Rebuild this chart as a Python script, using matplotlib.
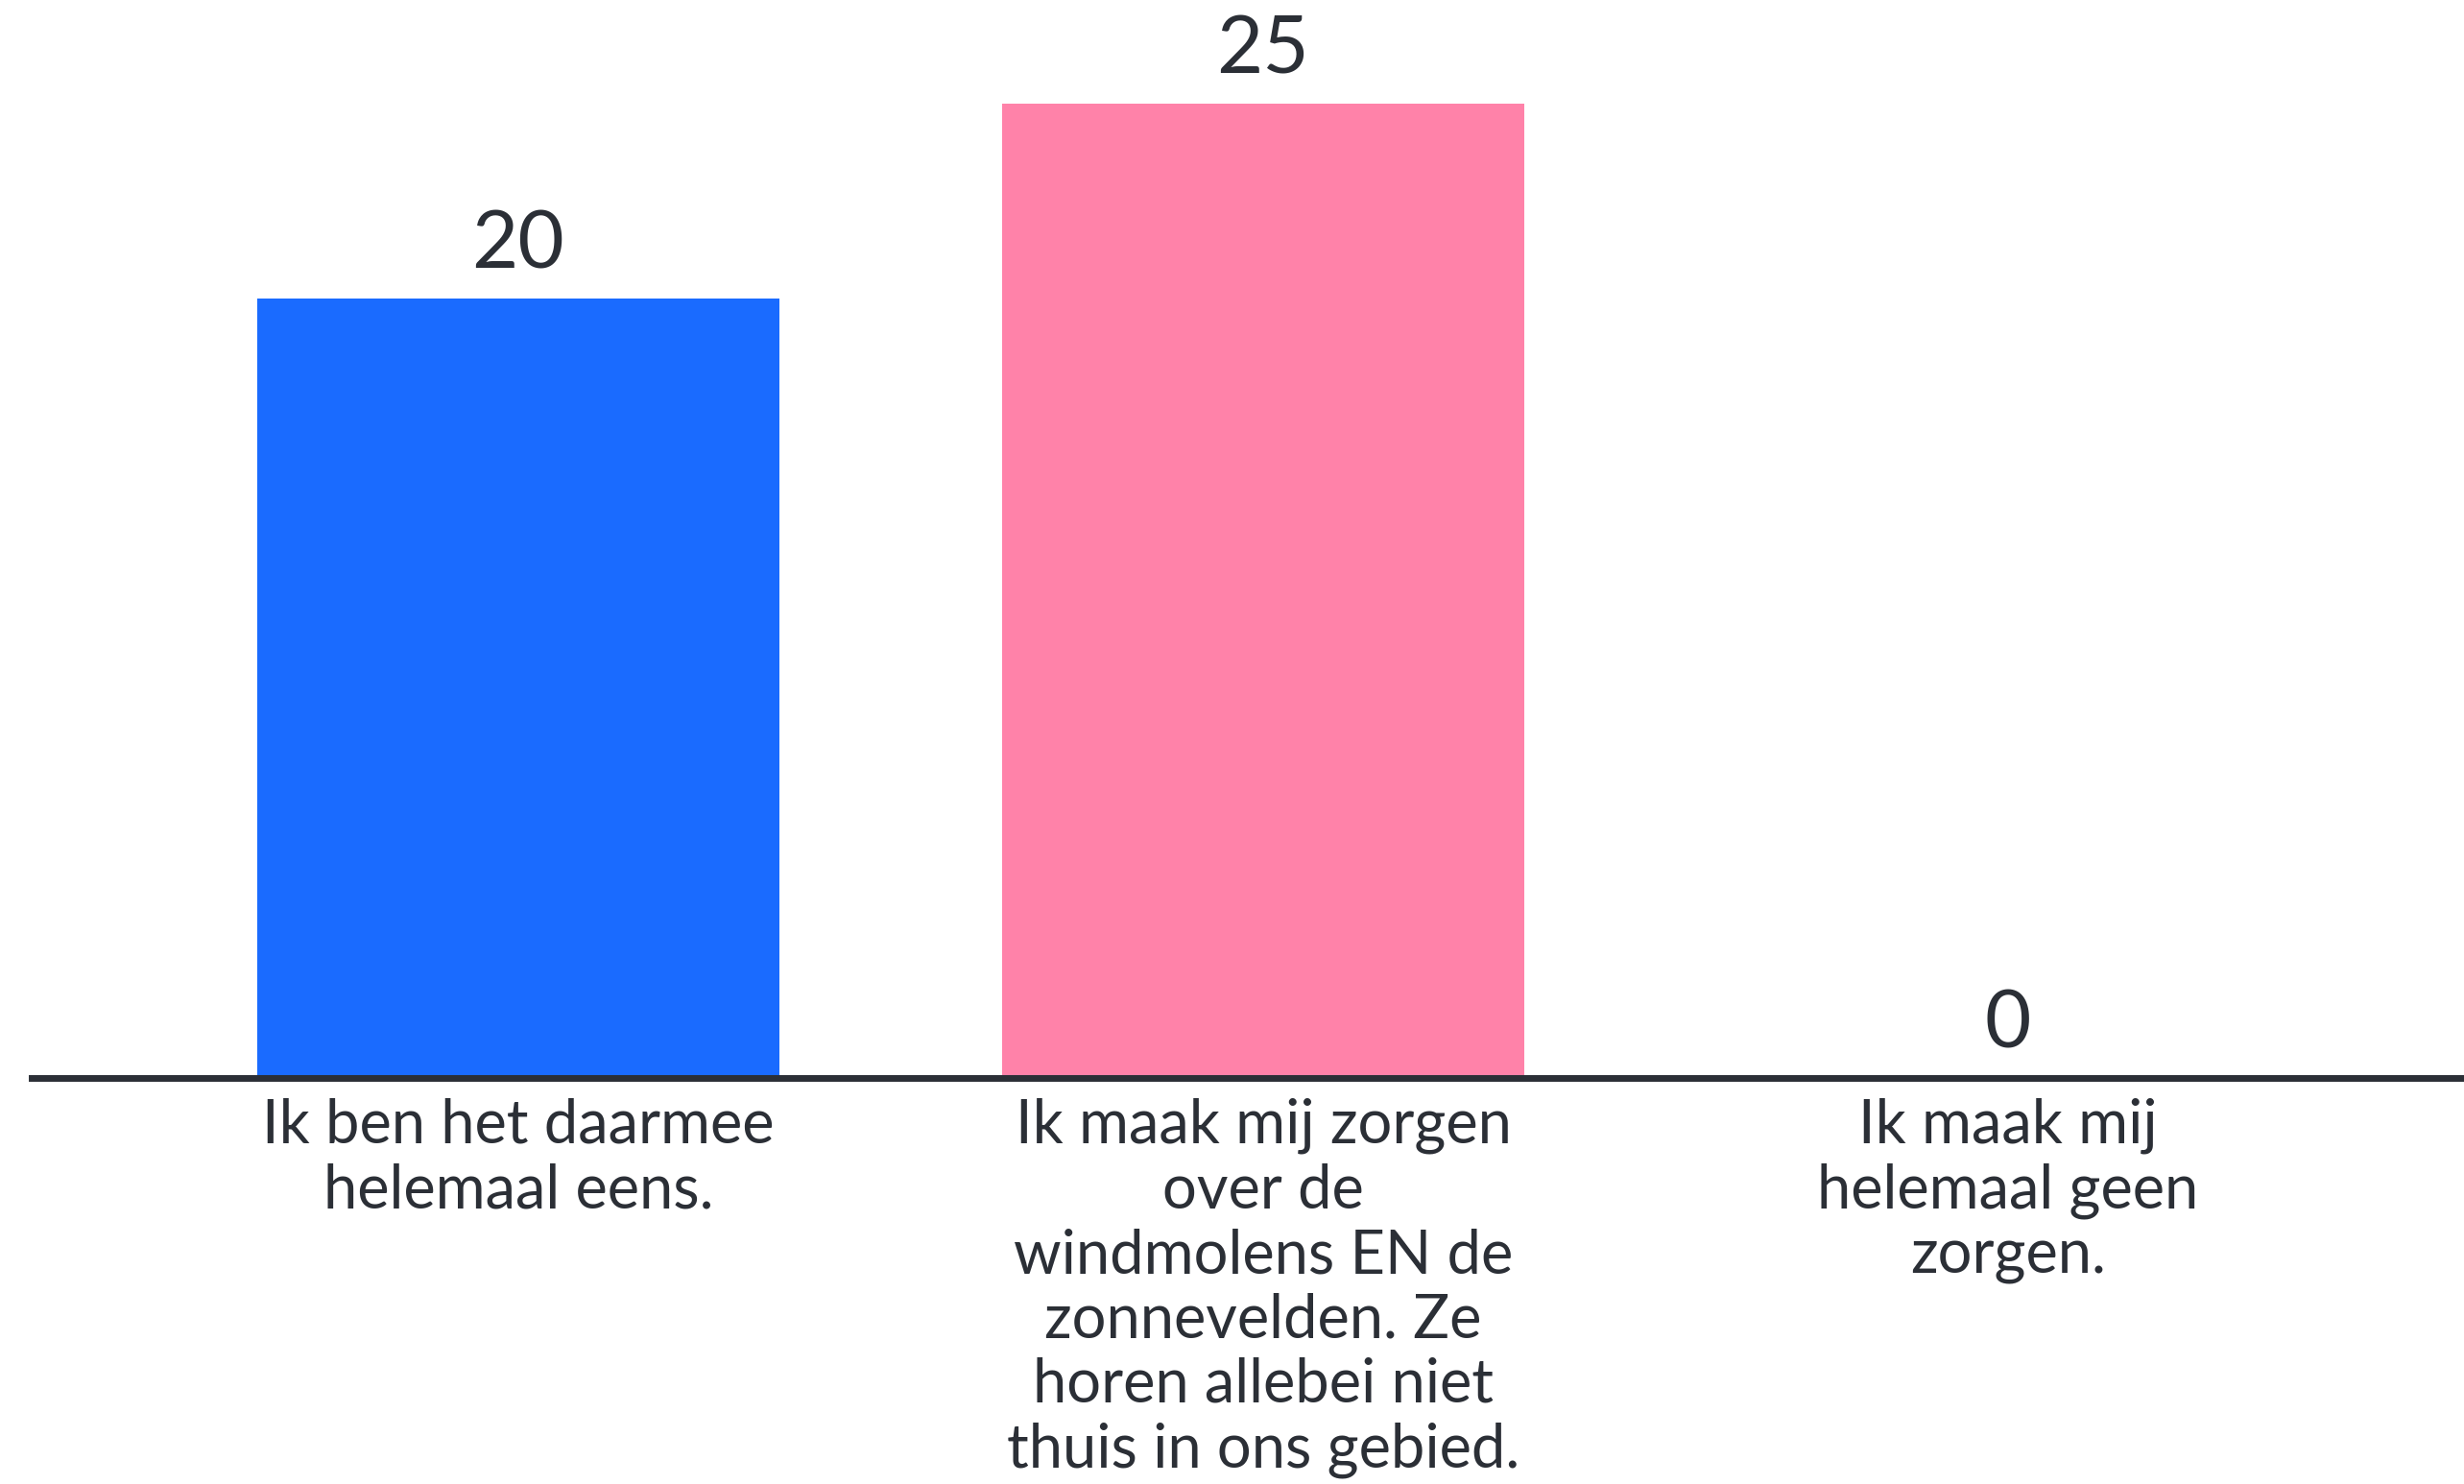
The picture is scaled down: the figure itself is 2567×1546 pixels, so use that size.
import matplotlib.pyplot as plt

categorieen = [
    "Ik ben het daarmee\nhelemaal eens.",
    "Ik maak mij zorgen\nover de\nwindmolens EN de\nzonnevelden. Ze\nhoren allebei niet\nthuis in ons gebied.",
    "Ik maak mij\nhelemaal geen\nzorgen.",
]
aantallen = [20, 25, 0]
kleuren = ["#1a6bff", "#ff82a9", "#8a8a8a"]

TEKST = "#2b2f36"

plt.rcParams["font.family"] = ["Lato", "DejaVu Sans"]

fig = plt.figure(figsize=(25.67, 15.46), dpi=100)
ax = fig.add_axes([0.0129, 0.2736, 0.9871, 0.7264])

posities = list(range(len(categorieen)))
balken = ax.bar(posities, aantallen, width=0.70, color=kleuren)

for pos, waarde in zip(posities, aantallen):
    ax.annotate(
        str(waarde),
        xy=(pos, waarde),
        xytext=(0, 12),
        textcoords="offset points",
        ha="center",
        va="bottom",
        fontsize=60,
        color=TEKST,
    )

ax.set_xlim(-0.653, 2.612)
ax.set_ylim(0, 27.66)

for kant in ["top", "right", "left"]:
    ax.spines[kant].set_visible(False)
ax.spines["bottom"].set_linewidth(5)
ax.spines["bottom"].set_color(TEKST)

ax.set_yticks([])
ax.set_xticks(posities)
ax.set_xticklabels(categorieen, fontsize=45.5, color=TEKST, linespacing=1.2)
ax.tick_params(axis="x", length=0, pad=15)

fig.savefig("out.png", dpi=100)
